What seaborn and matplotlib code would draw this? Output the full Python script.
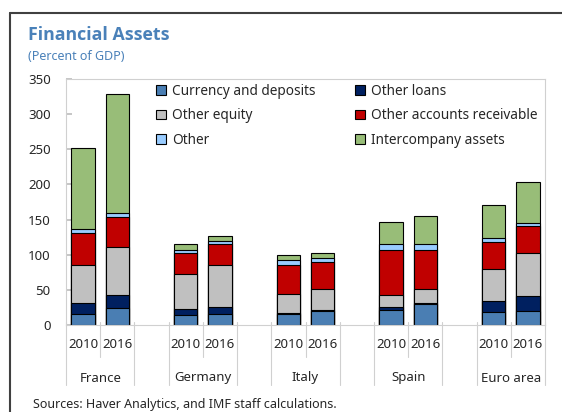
import matplotlib
matplotlib.use("Agg")
import matplotlib.pyplot as plt
from matplotlib.lines import Line2D
from matplotlib.patches import Patch
import seaborn as sns
import pandas as pd
import numpy as np

# ---- data (percent of GDP), one value per bar ----
countries = ["France", "Germany", "Italy", "Spain", "Euro area"]
years = ["2010", "2016"]

components = ["Currency and deposits", "Other loans", "Other equity",
              "Other accounts receivable", "Other", "Intercompany assets"]
colors = ["#4a7eb3", "#002060", "#c0c0c0", "#c00000", "#99ccff", "#98bd78"]

# order of bars: France 2010, France 2016, Germany 2010, ... Euro area 2016
currency = [16.0, 24.5, 13.7, 16.0, 15.5, 19.3, 21.2, 29.7, 17.9, 20.2]
other_loans = [16.0, 18.4, 8.9, 9.4, 1.9, 1.4, 3.8, 1.8, 16.0, 20.4]
other_equity = [53.3, 67.8, 50.4, 60.3, 26.4, 31.1, 18.3, 19.9, 46.2, 62.1]
other_ar = [45.3, 43.0, 29.2, 29.7, 41.5, 37.7, 62.7, 56.0, 38.6, 37.6]
other = [5.6, 5.6, 4.8, 4.2, 7.5, 6.1, 9.4, 8.0, 4.7, 4.8]
intercompany = [115.5, 170.0, 8.4, 7.1, 6.6, 7.1, 31.1, 39.1, 47.1, 58.4]

series = [currency, other_loans, other_equity, other_ar, other, intercompany]

# slot names, with an empty slot between countries
bars = [c + " " + y for c in countries for y in years]
order = []
for i, c in enumerate(countries):
    order += [c + " 2010", c + " 2016"]
    if i < len(countries) - 1:
        order.append("gap" + str(i))

# long table with cumulative tops for stacking
rows = []
for b_i, b in enumerate(bars):
    cum = 0
    for s_i, comp in enumerate(components):
        cum += series[s_i][b_i]
        rows.append([b, comp, series[s_i][b_i], cum])
df = pd.DataFrame(rows, columns=["slot", "component", "value", "top"])

# ---- figure ----
W, H = 562, 412
sns.set_theme(style="white")
plt.rcParams["font.family"] = ["Noto Sans", "DejaVu Sans"]

fig = plt.figure(figsize=(W / 100, H / 100), dpi=100)
ax = fig.add_axes([66 / W, 1 - 325 / H, (545 - 66) / W, (325 - 79) / H])

# draw cumulative bars from the top component down (painter's stacking)
for s_i in range(len(components) - 1, -1, -1):
    sub = df[df["component"] == components[s_i]]
    sns.barplot(data=sub, x="slot", y="top", order=order, color=colors[s_i],
                width=0.68, edgecolor="black", linewidth=0.8, saturation=1,
                errorbar=None, ax=ax)

ax.set_xlim(-0.5, len(order) - 0.5)
ax.set_ylim(0, 350)
ax.set_yticks(np.arange(0, 351, 50))
ax.set_xticks([])
ax.set_xlabel("")
ax.set_ylabel("")
ax.tick_params(axis="y", direction="in", length=4, color="#bfbfbf",
               labelsize=9.5, pad=11, left=True)
for sp in ax.spines.values():
    sp.set_color("#d0d0d0")
    sp.set_linewidth(0.8)

# multi-level category axis
xt = ax.get_xaxis_transform()
inner = [order.index(c + " 2010") + 0.5 for c in countries]
for k in range(len(order) + 1):
    x = k - 0.5
    bottom = -32 / 246 if x in inner else -60 / 246
    ax.plot([x, x], [3 / 246, bottom], transform=xt, color="#d0d0d0",
            lw=0.8, clip_on=False)
for c in countries:
    p = order.index(c + " 2010")
    for j, y in enumerate(years):
        ax.text(p + j, -20 / 246, y, transform=xt, ha="center", va="center",
                fontsize=9.5)
    ax.text(p + 0.5, -53 / 246, c, transform=xt, ha="center", va="center",
            fontsize=9.5)

# legend: two columns
handles = [Patch(facecolor=colors[i], edgecolor="black", linewidth=0.8,
                 label=components[i]) for i in [0, 2, 4, 1, 3, 5]]
fig.legend(handles=handles, ncol=2, loc="upper left",
           bbox_to_anchor=(156 / W, 1 - 84 / H), frameon=False, fontsize=9.8,
           handlelength=0.7, handleheight=0.7, handletextpad=0.45,
           labelspacing=0.68, columnspacing=2.95, borderaxespad=0, borderpad=0)

# titles and source
blue = "#4a81b9"
fig.text(28 / W, 1 - 40 / H, "Financial Assets", color=blue, fontsize=12.8,
         fontweight="bold", family=["Open Sans", "DejaVu Sans"], va="baseline")
fig.text(28 / W, 1 - 60 / H, "(Percent of GDP)", color=blue, fontsize=9,
         va="baseline")
fig.text(33 / W, 1 - 408 / H, "Sources: Haver Analytics, and IMF staff calculations.",
         fontsize=9, va="baseline")

# outer frame (open to the right and bottom)
fig.add_artist(Line2D([10 / W, 10 / W], [0, 1 - 13 / H], transform=fig.transFigure,
                      color="#404040", lw=1.5))
fig.add_artist(Line2D([10 / W, 1], [1 - 13 / H, 1 - 13 / H], transform=fig.transFigure,
                      color="#404040", lw=1.5))

fig.savefig("out.png", dpi=100)
